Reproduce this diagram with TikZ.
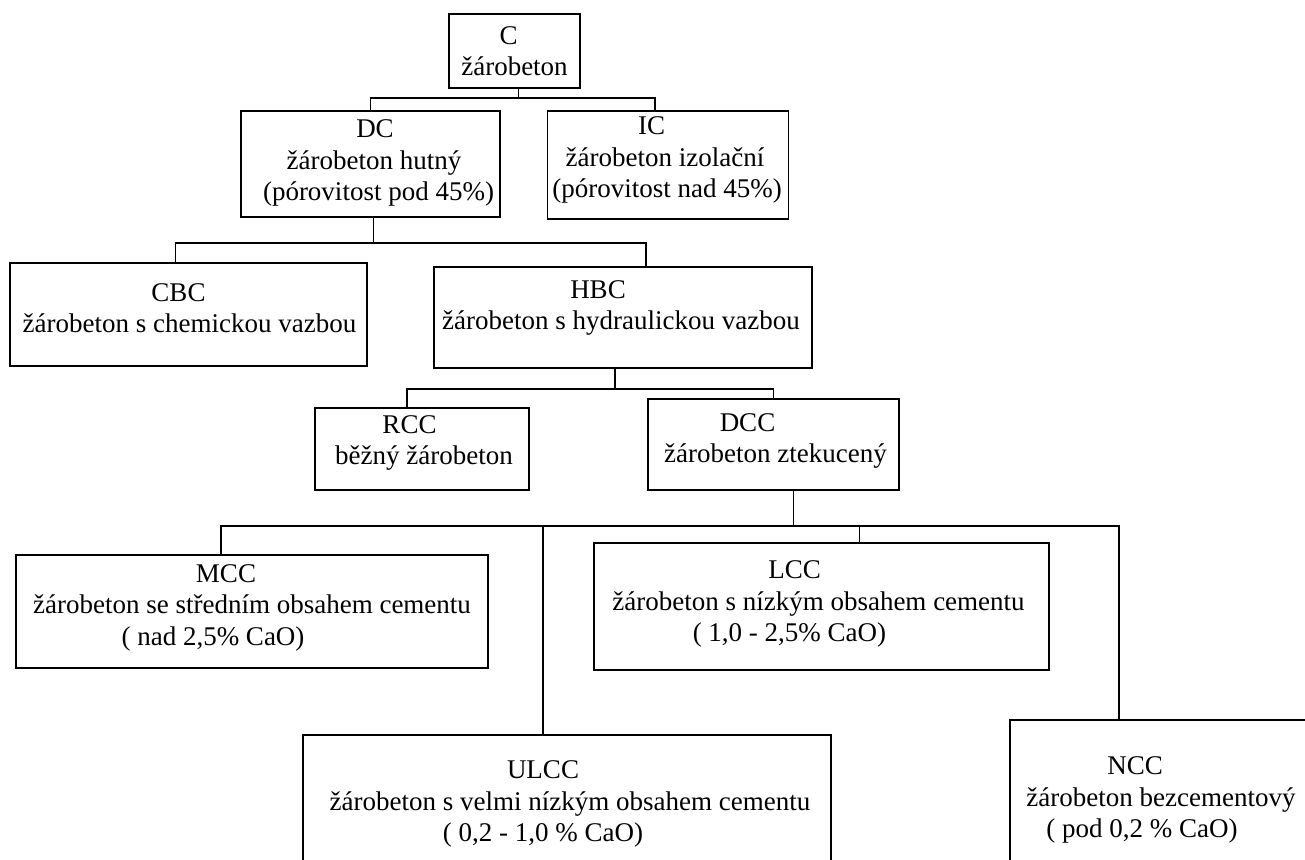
\documentclass[tikz,border=0pt]{standalone}
\usepackage{fontspec}
\setmainfont{Liberation Serif}
\newcommand\Lx[2]{\makebox[0pt]{\hspace*{#1pt}#2}}
\begin{document}
\begin{tikzpicture}[x=1pt,y=-1pt,
  bx/.style={draw, line width=1.7pt, inner sep=0pt, rectangle},
  tx/.style={inner sep=0pt, align=center, font=\fontsize{27}{31.5}\selectfont},
  ln/.style={line width=1.6pt}]
\useasboundingbox (0,0) rectangle (1305,859);
\begin{scope}
\clip (0,0) rectangle (1305,859);
% boxes
\node[bx, minimum width=131, minimum height=74]  (c)    at (514.5,51)  {};
\node[bx, minimum width=259, minimum height=106] (dc)   at (370.5,164) {};
\node[bx, minimum width=241, minimum height=108] (ic)   at (668,165)   {};
\node[bx, minimum width=357, minimum height=103] (cbc)  at (188.5,314.5) {};
\node[bx, minimum width=378, minimum height=101] (hbc)  at (623,317.5) {};
\node[bx, minimum width=214, minimum height=82]  (rcc)  at (422,449)   {};
\node[bx, minimum width=251, minimum height=91]  (dcc)  at (773.5,444.5) {};
\node[bx, minimum width=472, minimum height=113] (mcc)  at (252,611.5) {};
\node[bx, minimum width=455, minimum height=127] (lcc)  at (821.5,606.5) {};
\node[bx, minimum width=528, minimum height=165] (ulcc) at (567,817.5) {};
\node[bx, minimum width=330, minimum height=180] (ncc)  at (1175,810)  {};
% texts
\node[tx] (ct)    at (514.5,51)  {\Lx{-12}{C}\\\Lx{0}{žárobeton}};
\node[tx] (dct)   at (370.5,163) {\Lx{9}{DC}\\\Lx{7}{žárobeton hutný}\\\Lx{16}{(pórovitost pod 45\%)}};
\node[tx] (ict)   at (668,160)   {\Lx{-33}{IC}\\\Lx{-6}{žárobeton izolační}\\\Lx{-2}{(pórovitost nad 45\%)}};
\node[tx] (cbct)  at (188.5,308) {\Lx{-20}{CBC}\\\Lx{2}{žárobeton s chemickou vazbou}};
\node[tx] (hbct)  at (623,308)   {\Lx{-50}{HBC}\\\Lx{-4}{žárobeton s hydraulickou vazbou}};
\node[tx] (rcct)  at (422,443)   {\Lx{-25}{RCC}\\\Lx{4}{běžný žárobeton}};
\node[tx] (dcct)  at (773.5,441) {\Lx{-52}{DCC}\\\Lx{4}{žárobeton ztekucený}};
\node[tx] (mcct)  at (252,607.5) {\Lx{-52}{MCC}\\\Lx{0}{žárobeton se středním obsahem cementu}\\\Lx{-78}{( nad 2,5\% CaO)}};
\node[tx] (lcct)  at (821.5,604) {\Lx{-54}{LCC}\\\Lx{-6}{žárobeton s nízkým obsahem cementu}\\\Lx{-64}{( 1,0 - 2,5\% CaO)}};
\node[tx] (ulcct) at (567,804)   {\Lx{-48}{ULCC}\\\Lx{6}{žárobeton s velmi nízkým obsahem cementu}\\\Lx{-48}{( 0,2 - 1,0 \% CaO)}};
\node[tx] (ncct)  at (1161,800)  {\Lx{-52}{NCC}\\\Lx{0}{žárobeton bezcementový}\\\Lx{-38}{( pod 0,2 \% CaO)}};
% connectors
\draw[ln] ([xshift=4pt]c.south) -- ++(0,9) coordinate (j1);
\draw[ln] (j1) -| (dc.north);
\draw[ln] (j1) -| ([xshift=-13pt]ic.north);
\draw[ln] ([xshift=3pt]dc.south) -- ++(0,25) coordinate (j2);
\draw[ln] (j2) -| ([xshift=-13pt]cbc.north);
\draw[ln] (j2) -| ([xshift=23pt]hbc.north);
\draw[ln] ([xshift=-8pt]hbc.south) -- ++(0,20) coordinate (j3);
\draw[ln] (j3) -| ([xshift=-15pt]rcc.north);
\draw[ln] (j3) -| (dcc.north);
\draw[ln] ([xshift=20pt]dcc.south) -- ++(0,35) coordinate (j4);
\draw[ln] (j4) -| ([xshift=-31pt]mcc.north);
\draw[ln] (j4) -| ([xshift=-24pt]ulcc.north);
\draw[ln] (j4) -| ([xshift=38pt]lcc.north);
\draw[ln] (j4) -| ([xshift=-56pt]ncc.north);
\end{scope}
\end{tikzpicture}
\end{document}
